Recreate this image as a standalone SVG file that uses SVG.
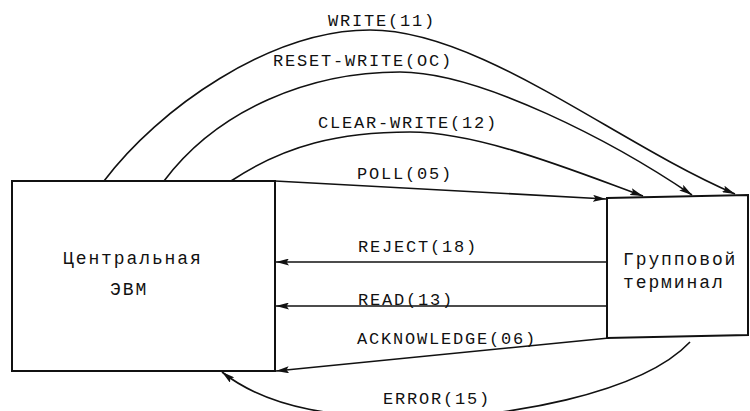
<svg xmlns="http://www.w3.org/2000/svg" width="750" height="411" viewBox="0 0 750 411">
<style>
.box{fill:#fff;stroke:#111;stroke-width:2}
.ln{fill:none;stroke:#111;stroke-width:1.6;marker-end:url(#arr)}
.lbl{font-family:"Liberation Mono","DejaVu Sans Mono",monospace;font-size:17px;letter-spacing:1.8px;fill:#111}
.nd{font-family:"Liberation Mono","DejaVu Sans Mono",monospace;font-size:18px;letter-spacing:1.9px;fill:#111}
</style>
<defs>
<marker id="arr" viewBox="0 0 13 7" markerWidth="13" markerHeight="7" refX="13" refY="3.5" orient="auto" markerUnits="userSpaceOnUse">
<path d="M0,0 L13,3.5 L0,7 L2.5,3.5 z" fill="#111"/>
</marker>
</defs>
<rect width="750" height="411" fill="#fff"/>
<g id="central">
<rect class="box" x="12" y="181" width="263" height="190"/>
<text class="nd" x="63" y="264">Центральная</text>
<text class="nd" x="110" y="295">ЭВМ</text>
</g>
<g id="terminal">
<polygon class="box" points="607,198 748,195 748,335 607,338"/>
<text class="nd" x="623" y="265">Групповой</text>
<text class="nd" x="623" y="288">терминал</text>
</g>
<g id="connectors">
<path class="ln" d="M104,181 C158,109 270,30 370,30 C480,30 614,142 735,194"/>
<path class="ln" d="M164,181 C218,109 310,72 400,72 C480,72 614,142 692,195"/>
<path class="ln" d="M231,181 C285,145 340,132 410,132 C480,132 577,172 643,196"/>
<path class="ln" d="M275,181 L606,199"/>
<path class="ln" d="M607,262 L276,262"/>
<path class="ln" d="M607,306 L276,306"/>
<path class="ln" d="M609,338 L276,371"/>
<path class="ln" d="M690,342 C640,395 500,418 420,418 C340,418 270,410 222,372"/>
<text class="lbl" x="328" y="26">WRITE(11)</text>
<text class="lbl" x="273" y="66">RESET-WRITE(OC)</text>
<text class="lbl" x="318" y="128">CLEAR-WRITE(12)</text>
<text class="lbl" x="357" y="179">POLL(05)</text>
<text class="lbl" x="358" y="252">REJECT(18)</text>
<text class="lbl" x="358" y="305">READ(13)</text>
<text class="lbl" x="357" y="344">ACKNOWLEDGE(06)</text>
<text class="lbl" x="383" y="404">ERROR(15)</text>
</g>
</svg>
